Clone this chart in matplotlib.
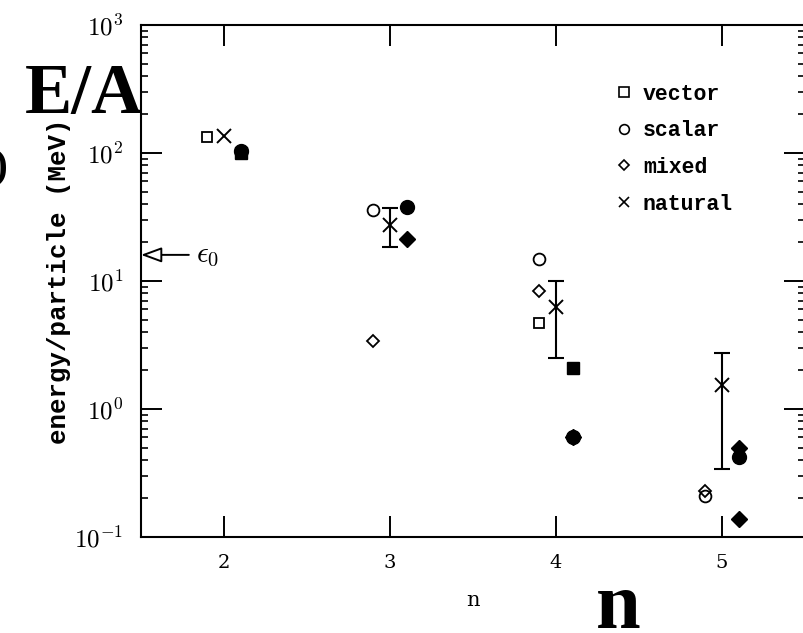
import matplotlib
matplotlib.use("Agg")
import matplotlib.pyplot as plt
from matplotlib.lines import Line2D

# ---- data -------------------------------------------------------------
n_open_square = [1.9, 3.9]
e_open_square = [133.0, 4.7]

n_open_circle = [2.9, 3.9, 4.9]
e_open_circle = [36.0, 14.9, 0.21]

n_open_diamond = [2.9, 3.9, 4.9]
e_open_diamond = [3.4, 8.4, 0.23]

n_natural = [2.0, 3.0, 4.0, 5.0]
e_natural = [135.0, 27.4, 6.3, 1.54]

n_natural_err = [3.0, 4.0, 5.0]
e_natural_err = [27.4, 6.3, 1.54]
e_natural_lo = [18.5, 2.5, 0.34]
e_natural_hi = [37.2, 10.0, 2.74]

n_filled_square = [2.1, 4.1]
e_filled_square = [100.0, 2.1]

n_filled_circle = [2.1, 3.1, 4.1, 5.1]
e_filled_circle = [104.0, 38.0, 0.60, 0.42]

n_filled_diamond = [3.1, 4.1, 5.1, 5.1]
e_filled_diamond = [21.3, 0.60, 0.50, 0.137]

eps0 = 16.0

x_ticks = [2, 3, 4, 5]
x_tick_labels = ["2", "3", "4", "5"]
y_ticks = [0.1, 1, 10, 100, 1000]
y_tick_labels = [r"$10^{-1}$", r"$10^{0}$", r"$10^{1}$", r"$10^{2}$", r"$10^{3}$"]

legend_labels = ["vector", "scalar", "mixed", "natural"]

# ---- figure -----------------------------------------------------------
plt.rcParams["mathtext.fontset"] = "cm"
W, H = 804, 633
fig = plt.figure(figsize=(W / 100, H / 100), dpi=100)
ax = fig.add_axes([141 / W, 1 - 537 / H, 664 / W, 512 / H])

ax.set_yscale("log")
ax.set_xlim(1.5, 5.5)
ax.set_ylim(0.1, 1000)

mono = dict(family="Liberation Mono", weight="bold")

# open markers (n - 0.1)
ax.plot(n_open_square, e_open_square, ls="none", marker="s", ms=7.5,
        mfc="white", mec="black", mew=1.3)
ax.plot(n_open_circle, e_open_circle, ls="none", marker="o", ms=8.5,
        mfc="none", mec="black", mew=1.3)
ax.plot(n_open_diamond, e_open_diamond, ls="none", marker="D", ms=6.5,
        mfc="none", mec="black", mew=1.3)

# filled markers (n + 0.1)
ax.plot(n_filled_square, e_filled_square, ls="none", marker="s", ms=9,
        mfc="black", mec="black")
ax.plot(n_filled_circle, e_filled_circle, ls="none", marker="o", ms=10,
        mfc="black", mec="black")
ax.plot(n_filled_diamond, e_filled_diamond, ls="none", marker="D", ms=8.5,
        mfc="black", mec="black")

# natural orbitals with error bars
ax.plot(n_natural, e_natural, ls="none", marker="x", ms=10, mec="black", mew=1.4)
yerr = [[v - lo for v, lo in zip(e_natural_err, e_natural_lo)],
        [hi - v for v, hi in zip(e_natural_err, e_natural_hi)]]
ax.errorbar(n_natural_err, e_natural_err, yerr=yerr, fmt="none", ecolor="black",
            elinewidth=1.5, capsize=5.5, capthick=1.5)

# nuclear-matter saturation energy
ax.annotate(r"$\epsilon_0$", xy=(1.5, eps0), xytext=(1.83, eps0),
            fontsize=21, va="center", ha="left",
            arrowprops=dict(arrowstyle="-|>,head_length=0.6,head_width=0.22",
                            fc="white", ec="black", lw=1.4,
                            shrinkA=3, shrinkB=0))

# axes styling
for s in ax.spines.values():
    s.set_linewidth(1.5)
ax.set_xticks(x_ticks, labels=x_tick_labels)
ax.set_yticks(y_ticks, labels=y_tick_labels)
ax.tick_params(which="major", direction="in", length=15, width=1.4,
               top=True, right=True, labelsize=18, pad=12)
ax.tick_params(which="minor", direction="in", length=5, width=1.2,
               top=False, right=True, bottom=False)
ax.tick_params(axis="y", pad=13)
for lab in ax.get_xticklabels():
    lab.set_fontfamily("DejaVu Serif")
    lab.set_fontsize(14)

ax.set_ylabel("energy/particle (MeV)", fontsize=18.5, **mono)
ax.yaxis.set_label_coords(-0.105, 0.5)
ax.set_xlabel("n", fontsize=15, family="DejaVu Serif")
ax.xaxis.set_label_coords(0.5, -0.105)

# legend
handles = [
    Line2D([], [], ls="none", marker="s", ms=6.5, mfc="white", mec="black", mew=1.2),
    Line2D([], [], ls="none", marker="o", ms=7, mfc="white", mec="black", mew=1.2),
    Line2D([], [], ls="none", marker="D", ms=5.5, mfc="white", mec="black", mew=1.2),
    Line2D([], [], ls="none", marker="x", ms=7.5, mec="black", mew=1.2),
]
ax.legend(handles, legend_labels, loc="upper left",
          bbox_to_anchor=((615 - 141) / 664, (537 - 84) / 512),
          frameon=False, borderaxespad=0, borderpad=0, handlelength=0.8,
          handletextpad=0.5, labelspacing=0.72, prop=dict(size=15.5, **mono))

# large overlaid annotations
serif_bold = dict(family="Liberation Serif", weight="bold", color="black")
fig.text(25 / W, 1 - 113 / H, "E/A", fontsize=51, va="baseline", ha="left", **serif_bold)
fig.text(596 / W, 1 - 628 / H, "n", fontsize=58, va="baseline", ha="left", **serif_bold)
fig.text(-6 / W, 1 - 168 / H, ")", fontsize=30, va="center", ha="left", **serif_bold)

fig.savefig("out.png", dpi=100)
